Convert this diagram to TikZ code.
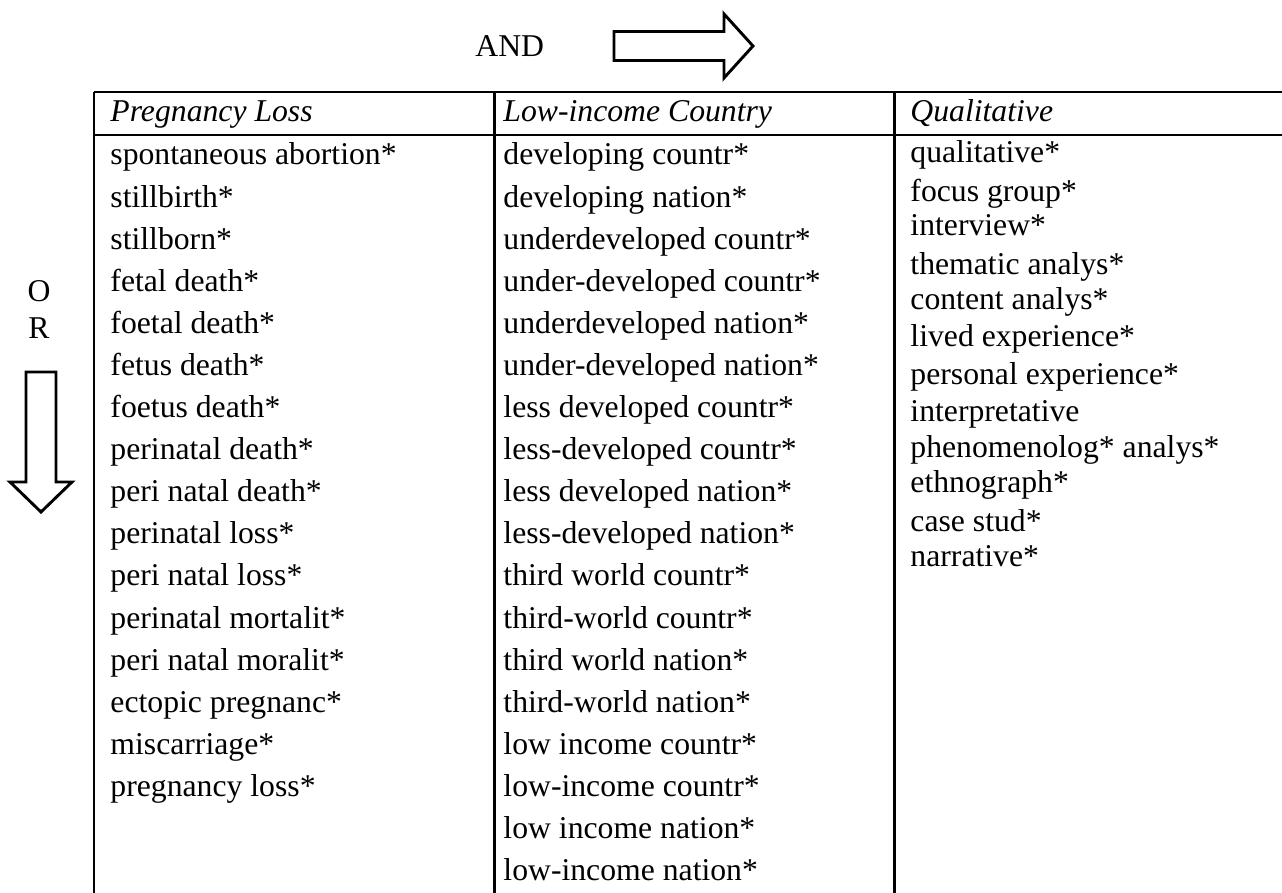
\documentclass[tikz,border=0pt]{standalone}
\usepackage{fontspec}
\setmainfont{Liberation Serif}

\begin{document}
\begin{tikzpicture}[x=0.3785pt, y=-0.3785pt, line width=1.1pt,
    every node/.style={font=\fontsize{12}{14}\selectfont, inner sep=0pt, anchor=base west},
    head/.style={font=\fontsize{12}{14}\selectfont\itshape},
    letter/.style={anchor=base}]
  \useasboundingbox (0,0) rectangle (1282,893);

  % Table rules
  \draw (94,92) -- (1282,92);
  \draw (94,135) -- (1282,135);
  \foreach \xc in {94,494.5,894.5}
    \draw (\xc,92) -- (\xc,893);

  % Header row
  \node[head] (hloss) at (109,122) {Pregnancy Loss};
  \node[head] (hcountry) at (502,122) {Low-income Country};
  \node[head] (hqual) at (909,122) {Qualitative};

  % Pregnancy loss terms
  \foreach \term [count=\i from 0] in {spontaneous abortion*, stillbirth*,
      stillborn*, fetal death*, foetal death*, fetus death*, foetus death*,
      perinatal death*, peri natal death*, perinatal loss*, peri natal loss*,
      perinatal mortalit*, peri natal moralit*, ectopic pregnanc*,
      miscarriage*, pregnancy loss*}
    \node (loss\i) at (109,{165+42.1*\i}) {\term};

  % Country terms
  \foreach \term [count=\i from 0] in {developing countr*, developing nation*,
      underdeveloped countr*, under-developed countr*, underdeveloped nation*,
      under-developed nation*, less developed countr*, less-developed countr*,
      less developed nation*, less-developed nation*, third world countr*,
      third-world countr*, third world nation*, third-world nation*,
      low income countr*, low-income countr*, low income nation*,
      low-income nation*}
    \node (country\i) at (502,{165+42.1*\i}) {\term};

  % Qualitative terms
  \foreach \yb/\term [count=\i] in {163/qualitative*, 202/focus group*,
      236/interview*, 275/thematic analys*, 310/content analys*,
      347/lived experience*, 385/personal experience*, 422/interpretative,
      458/phenomenolog* analys*, 493/ethnograph*, 532/case stud*,
      567/narrative*}
    \node (qual\i) at (909,\yb) {\term};

  % AND arrow
  \node (and) at (474,57) {AND};
  \draw (614,31.5) -- (724,31.5) -- (724,14) -- (753,46) -- (724,78)
    -- (724,60.5) -- (614,60.5) -- cycle;

  % OR arrow
  \node[letter] (o) at (39,302) {O};
  \node[letter] (r) at (39,339) {R};
  \draw (26,372) -- (26,482) -- (10,482) -- (41,512) -- (72,482)
    -- (56,482) -- (56,372) -- cycle;
\end{tikzpicture}
\end{document}
